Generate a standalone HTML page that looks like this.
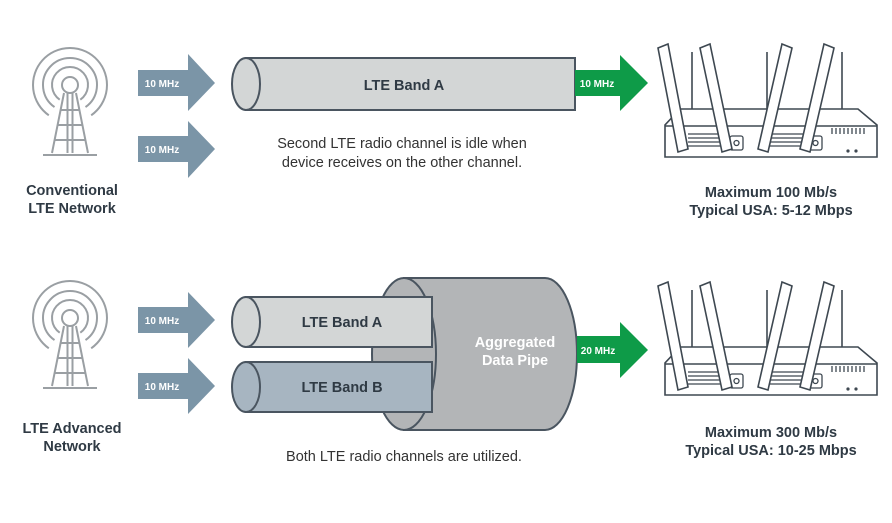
<!DOCTYPE html>
<html><head><style>
body{margin:0;background:#fff}
svg{display:block}
text{font-family:"Liberation Sans",sans-serif}
.b{font-weight:bold;fill:#2f3a44}
</style></head><body>
<svg width="892" height="523" viewBox="0 0 892 523" xmlns="http://www.w3.org/2000/svg">
<defs>
<g id="tower" fill="none" stroke="#9a9fa3" stroke-width="2">
  <circle cx="0" cy="0" r="8"/>
  <path d="M-10.3,14.7 A18,18 0 1,1 10.3,14.7"/>
  <path d="M-15.5,22.1 A27,27 0 1,1 15.5,22.1"/>
  <path d="M-21.2,30.3 A37,37 0 1,1 21.2,30.3"/>
  <path d="M-6,8 L-18,68 M6,8 L18,68 M-2.5,8 L-2.5,68 M2.5,8 L2.5,68 M-27,70 L27,70 M-10,25 L10,25 M-13,40 L13,40 M-16,55 L16,55"/>
</g>
<g id="router" fill="#fff" stroke="#3e4851" stroke-width="1.6">
  <line x1="692" y1="52" x2="692" y2="112"/><line x1="767" y1="52" x2="767" y2="112"/><line x1="842" y1="52" x2="842" y2="112"/>
  <path d="M665,157 L665,125 L680,109 L858,109 L877,125 L877,157 Z"/>
  <line x1="665" y1="126" x2="877" y2="126"/>
  <g stroke-width="1.3"><path d="M688,134 H722 M688,138 H722 M688,142 H722 M688,146 H722 M770,134 H804 M770,138 H804 M770,142 H804 M770,146 H804"/>
  <rect x="730" y="136" width="13" height="14" rx="2"/><circle cx="736.5" cy="143" r="2.5"/>
  <rect x="809" y="136" width="13" height="14" rx="2"/><circle cx="815.5" cy="143" r="2.5"/>
  <path d="M832,128 v6 M836,128 v6 M840,128 v6 M844,128 v6 M848,128 v6 M852,128 v6 M856,128 v6 M860,128 v6 M864,128 v6"/></g>
  <circle cx="848" cy="151" r="0.8" fill="#3e4851"/><circle cx="856" cy="151" r="0.8" fill="#3e4851"/>
  <path d="M658,48 L668,44 L688,149 L678,152 Z"/>
  <path d="M700,48 L710,44 L732,149 L722,152 Z"/>
  <path d="M782,44 L792,48 L768,152 L758,149 Z"/>
  <path d="M824,44 L834,48 L810,152 L800,149 Z"/>
</g>
</defs>

<!-- TOP -->
<use href="#tower" transform="translate(70,85)"/>
<text class="b" x="72" y="195" font-size="14.5" text-anchor="middle">Conventional</text>
<text class="b" x="72" y="213" font-size="14.5" text-anchor="middle">LTE Network</text>

<path d="M138,70 H188 V54 L215,83 L188,111 V96 H138 Z" fill="#7b95a7"/>
<text x="162" y="87" font-size="10" font-weight="bold" fill="#fff" text-anchor="middle">10 MHz</text>
<path d="M138,136 H188 V121 L215,149 L188,178 V162 H138 Z" fill="#7b95a7"/>
<text x="162" y="153" font-size="10" font-weight="bold" fill="#fff" text-anchor="middle">10 MHz</text>

<path d="M246,58 H575 V110 H246 Z" fill="#d3d6d6" stroke="#4a5560" stroke-width="2"/>
<ellipse cx="246" cy="84" rx="14" ry="26" fill="#d3d6d6" stroke="#4a5560" stroke-width="2"/>
<rect x="560" y="60" width="14" height="48" fill="#d3d6d6"/>
<text class="b" x="404" y="90" font-size="14.5" text-anchor="middle">LTE Band A</text>

<path d="M575,70 H620 V55 L648,83 L620,111 V96 H575 Z" fill="#0e9b48"/>
<text x="597" y="87" font-size="10" font-weight="bold" fill="#fff" text-anchor="middle">10 MHz</text>

<text x="402" y="148" font-size="14.5" fill="#333" text-anchor="middle">Second LTE radio channel is idle when</text>
<text x="402" y="167" font-size="14.5" fill="#333" text-anchor="middle">device receives on the other channel.</text>

<use href="#router"/>
<text class="b" x="771" y="197" font-size="14.5" text-anchor="middle">Maximum 100 Mb/s</text>
<text class="b" x="771" y="215" font-size="14.5" text-anchor="middle">Typical USA: 5-12 Mbps</text>

<!-- BOTTOM -->
<use href="#tower" transform="translate(70,318)"/>
<text class="b" x="72" y="433" font-size="14.5" text-anchor="middle">LTE Advanced</text>
<text class="b" x="72" y="451" font-size="14.5" text-anchor="middle">Network</text>

<path d="M138,307 H188 V292 L215,320 L188,348 V333 H138 Z" fill="#7b95a7"/>
<text x="162" y="324" font-size="10" font-weight="bold" fill="#fff" text-anchor="middle">10 MHz</text>
<path d="M138,373 H188 V358 L215,386 L188,414 V399 H138 Z" fill="#7b95a7"/>
<text x="162" y="390" font-size="10" font-weight="bold" fill="#fff" text-anchor="middle">10 MHz</text>

<path d="M404,278 H545 A32,76 0 0,1 545,430 H404 Z" fill="#b3b5b7" stroke="#4a5560" stroke-width="2"/>
<ellipse cx="404" cy="354" rx="32" ry="76" fill="#b3b5b7" stroke="#4a5560" stroke-width="2"/>
<text x="515" y="347" font-size="14.5" font-weight="bold" fill="#fff" text-anchor="middle">Aggregated</text>
<text x="515" y="365" font-size="14.5" font-weight="bold" fill="#fff" text-anchor="middle">Data Pipe</text>

<path d="M246,297 H432 V347 H246 Z" fill="#d3d6d6" stroke="#4a5560" stroke-width="2"/>
<ellipse cx="246" cy="322" rx="14" ry="25" fill="#d3d6d6" stroke="#4a5560" stroke-width="2"/>
<text class="b" x="342" y="327" font-size="14.5" text-anchor="middle">LTE Band A</text>

<path d="M246,362 H432 V412 H246 Z" fill="#a7b5c1" stroke="#4a5560" stroke-width="2"/>
<ellipse cx="246" cy="387" rx="14" ry="25" fill="#a7b5c1" stroke="#4a5560" stroke-width="2"/>
<text class="b" x="342" y="392" font-size="14.5" text-anchor="middle">LTE Band B</text>

<path d="M577,336 H620 V322 L648,350 L620,378 V363 H577 Z" fill="#0e9b48"/>
<text x="598" y="354" font-size="10" font-weight="bold" fill="#fff" text-anchor="middle">20 MHz</text>

<text x="404" y="461" font-size="14.5" fill="#333" text-anchor="middle">Both LTE radio channels are utilized.</text>

<use href="#router" transform="translate(0,238)"/>
<text class="b" x="771" y="437" font-size="14.5" text-anchor="middle">Maximum 300 Mb/s</text>
<text class="b" x="771" y="455" font-size="14.5" text-anchor="middle">Typical USA: 10-25 Mbps</text>
</svg>
</body></html>
